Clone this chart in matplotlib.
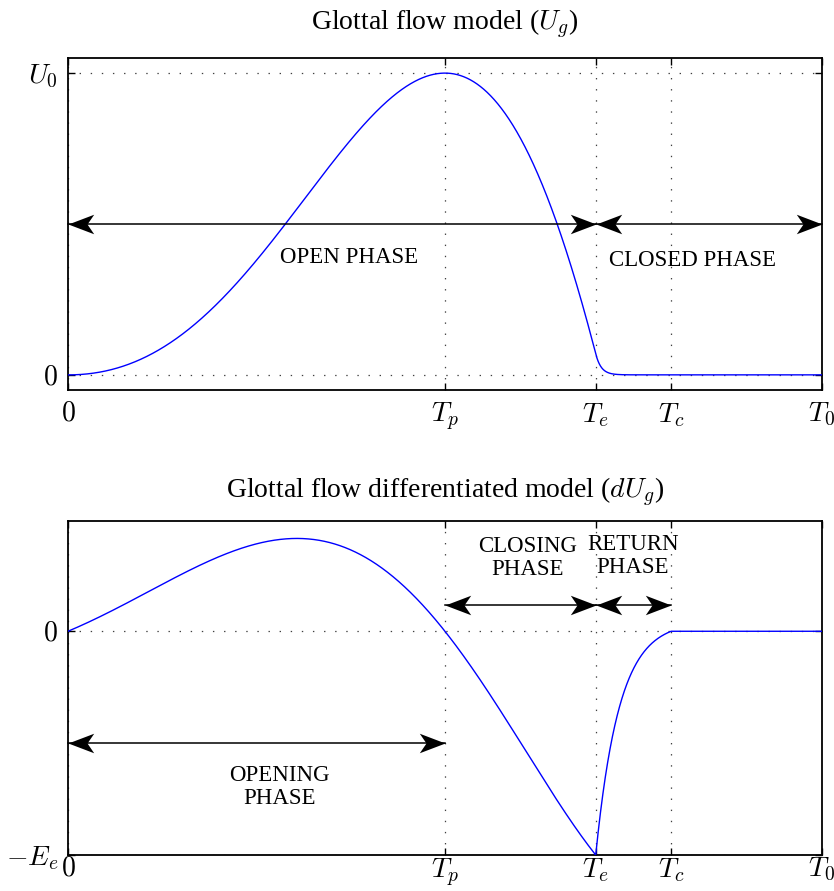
import numpy as np
import matplotlib
matplotlib.use("Agg")
import matplotlib.pyplot as plt
from matplotlib.path import Path

plt.rcParams['font.family'] = ['Liberation Serif', 'DejaVu Serif']
plt.rcParams['mathtext.fontset'] = 'cm'
plt.rcParams['lines.scale_dashes'] = False

# LF model timing instants (fraction of the period T0)
instants = [0.0, 0.5, 0.7, 0.8, 1.0]          # 0, Tp, Te, Tc, T0
instant_labels = ['$0$', '$T_p$', '$T_e$', '$T_c$', '$T_0$']
T_start, Tp, Te, Tc, T0 = instants

# LF shape parameters: open-phase growth (alpha) and return-phase decay (eps)
alpha_flow, eps_flow = 2.7, 138.0
alpha_deriv, eps_deriv = 2.2, 32.0

# y-axis ticks
flow_ticks = [0.0, 1.0]
flow_tick_labels = ['$0$', '$U_0$']
deriv_ticks = [-1.0, 0.0]
deriv_tick_labels = ['$-E_e$', '$0$']

# phase annotations: (label, x, y)
flow_phase_labels = [('OPEN PHASE', 0.373, 0.39), ('CLOSED PHASE', 0.829, 0.38)]
deriv_phase_labels = [('CLOSING\nPHASE', 0.61, 0.327), ('RETURN\nPHASE', 0.749, 0.336),
                      ('OPENING\nPHASE', 0.281, -0.695)]
flow_arrows = [(T_start, Te, 0.5), (Te, T0, 0.5)]
deriv_arrows = [(Tp, Te, 0.117), (Te, Tc, 0.117), (T_start, Tp, -0.5)]


def lf_derivative(t, alpha, eps):
    """Liljencrants-Fant glottal flow derivative (unnormalised)."""
    wg = np.pi / Tp
    d = np.zeros_like(t)
    op = t <= Te
    d[op] = np.exp(alpha * t[op]) * np.sin(wg * t[op])
    Ee = -np.exp(alpha * Te) * np.sin(wg * Te)
    Tr = Tc - Te
    ret = (t > Te) & (t <= Tc)
    d[ret] = -Ee * (np.exp(-eps * (t[ret] - Te)) - np.exp(-eps * Tr)) / (1 - np.exp(-eps * Tr))
    return d, Ee


t = np.linspace(T_start, T0, 6001)

d_flow, _ = lf_derivative(t, alpha_flow, eps_flow)
flow = np.concatenate([[0.0], np.cumsum(0.5 * (d_flow[1:] + d_flow[:-1]) * np.diff(t))])
flow = flow / flow.max()

d_der, Ee = lf_derivative(t, alpha_deriv, eps_deriv)
dflow = d_der / Ee

# notched arrowhead pointing right, tip at the origin
head_right = Path([(0, 0), (-1, 0.38), (-0.74, 0), (-1, -0.38), (0, 0)],
                  [Path.MOVETO, Path.LINETO, Path.LINETO, Path.LINETO, Path.CLOSEPOLY])
head_left = Path([(0, 0), (1, 0.38), (0.74, 0), (1, -0.38), (0, 0)],
                 [Path.MOVETO, Path.LINETO, Path.LINETO, Path.LINETO, Path.CLOSEPOLY])


def double_arrow(ax, x0, x1, y):
    ax.plot([x0, x1], [y, y], color='black', lw=1.1, zorder=4, clip_on=False)
    ax.plot([x0], [y], marker=head_left, ms=37, color='black', mew=0, zorder=5, clip_on=False)
    ax.plot([x1], [y], marker=head_right, ms=37, color='black', mew=0, zorder=5, clip_on=False)


def style_axes(ax, yticks, ylabels, xpad):
    ax.set_xlim(T_start, T0)
    ax.set_xticks(instants)
    ax.set_xticklabels(instant_labels)
    ax.set_yticks(yticks)
    ax.set_yticklabels(ylabels)
    ax.tick_params(direction='in', top=True, right=True, length=5, width=1,
                   labelsize=20)
    ax.tick_params(axis='x', pad=xpad)
    ax.tick_params(axis='y', pad=7)
    ax.grid(True, linestyle=(0, (1, 7)), color='0.25', lw=0.9)
    for s in ax.spines.values():
        s.set_linewidth(1.3)


fig = plt.figure(figsize=(8.34, 8.91), dpi=100)
ax1 = fig.add_axes([0.0815, 0.5623, 0.904, 0.3726])
ax2 = fig.add_axes([0.0815, 0.0404, 0.904, 0.3749])

# glottal flow
ax1.plot(t, flow, color='#0000ff', lw=1.0, zorder=3)
ax1.set_ylim(-0.05, 1.05)
style_axes(ax1, flow_ticks, flow_tick_labels, xpad=8)
ax1.set_title('Glottal flow model ($U_g$)', fontsize=20, pad=20)
for x0, x1, y in flow_arrows:
    double_arrow(ax1, x0, x1, y)
for txt, x, y in flow_phase_labels:
    ax1.text(x, y, txt, ha='center', va='center', fontsize=16.5)

# glottal flow derivative
ax2.plot(t, dflow, color='#0000ff', lw=1.0, zorder=3)
ax2.set_ylim(-1.0, 0.493)
style_axes(ax2, deriv_ticks, deriv_tick_labels, xpad=1)
ax2.set_title('Glottal flow differentiated model ($dU_g$)', fontsize=20, pad=16)
for x0, x1, y in deriv_arrows:
    double_arrow(ax2, x0, x1, y)
for txt, x, y in deriv_phase_labels:
    ax2.text(x, y, txt, ha='center', va='center', fontsize=16.5, linespacing=1.15)

fig.savefig('out.png', dpi=100)
